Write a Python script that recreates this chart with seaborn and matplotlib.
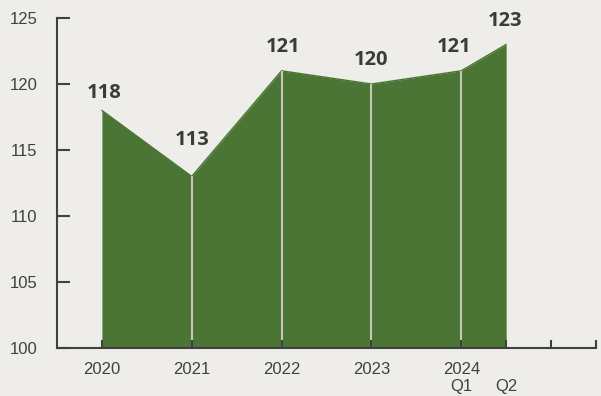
import matplotlib
matplotlib.use("Agg")
import matplotlib.pyplot as plt
import seaborn as sns
import pandas as pd

# Index values per period
periods = ["2020", "2021", "2022", "2023", "2024 Q1", "2024 Q2"]
positions = [0, 1, 2, 3, 4, 4.5]
values = [118, 113, 121, 120, 121, 123]

# Axis tick labels (two-line for the 2024 quarters)
tick_positions = [0, 1, 2, 3, 4, 4.5, 5, 5.5]
tick_labels = ["2020", "2021", "2022", "2023", "2024\nQ1", "\nQ2", "", ""]
y_ticks = [100, 105, 110, 115, 120, 125]

# Label offsets (points) relative to each data point
label_dx = [2, 0, 1, 0, -5, -1]
label_dy = [5, 19, 10, 10, 10, 10]

bg = "#eeede9"
green = "#4a7535"
ink = "#404040"

sns.set_theme(style="white")
plt.rcParams["font.family"] = ["Liberation Sans", "DejaVu Sans"]

df = pd.DataFrame({"period": periods, "x": positions, "value": values})

fig = plt.figure(figsize=(6.01, 3.96), dpi=100, facecolor=bg)
ax = fig.add_axes([0.0948, 0.1212, 0.8969, 0.8333], facecolor=bg)

base = 100
ax.fill_between(df["x"], base, df["value"], color=green, linewidth=0, zorder=2)
sns.lineplot(data=df, x="x", y="value", color=green, linewidth=1.0, ax=ax,
             zorder=3, legend=False)

# light separators at the interior points
inner = df.iloc[1:-1]
ax.vlines(inner["x"], base, inner["value"], color="#c9c5b6", linewidth=1.5,
          zorder=4)

for x, v, dx, dy in zip(df["x"], df["value"], label_dx, label_dy):
    ax.annotate(f"{v}", (x, v), xytext=(dx, dy), textcoords="offset points",
                ha="center", va="bottom", fontsize=14.5, fontweight="bold",
                family=["Open Sans", "DejaVu Sans"], color="#3b3b3b")

ax.set_xlim(-0.5, 5.5)
ax.set_ylim(100, 125)
ax.set_xticks(tick_positions)
ax.set_xticklabels(tick_labels)
ax.set_yticks(y_ticks)
ax.set_yticklabels([str(t) for t in y_ticks])
ax.set_xlabel("")
ax.set_ylabel("")

for side in ["top", "right"]:
    ax.spines[side].set_visible(False)
for side in ["left", "bottom"]:
    ax.spines[side].set_color(ink)
    ax.spines[side].set_linewidth(1.5)
    ax.spines[side].set_zorder(5)

ax.tick_params(axis="y", left=True, direction="in", length=9.5, width=1.5,
               color=ink, labelsize=12, labelcolor=ink, pad=14)
ax.tick_params(axis="x", bottom=True, direction="in", length=6, width=1.5,
               color=ink, labelsize=12, labelcolor=ink, pad=10)
for lbl in ax.get_xticklabels():
    lbl.set_linespacing(1.2)
# keep tick marks drawn over the filled area
ax.xaxis.set_zorder(6)
ax.yaxis.set_zorder(6)

fig.savefig("out.png", dpi=100, facecolor=bg)
